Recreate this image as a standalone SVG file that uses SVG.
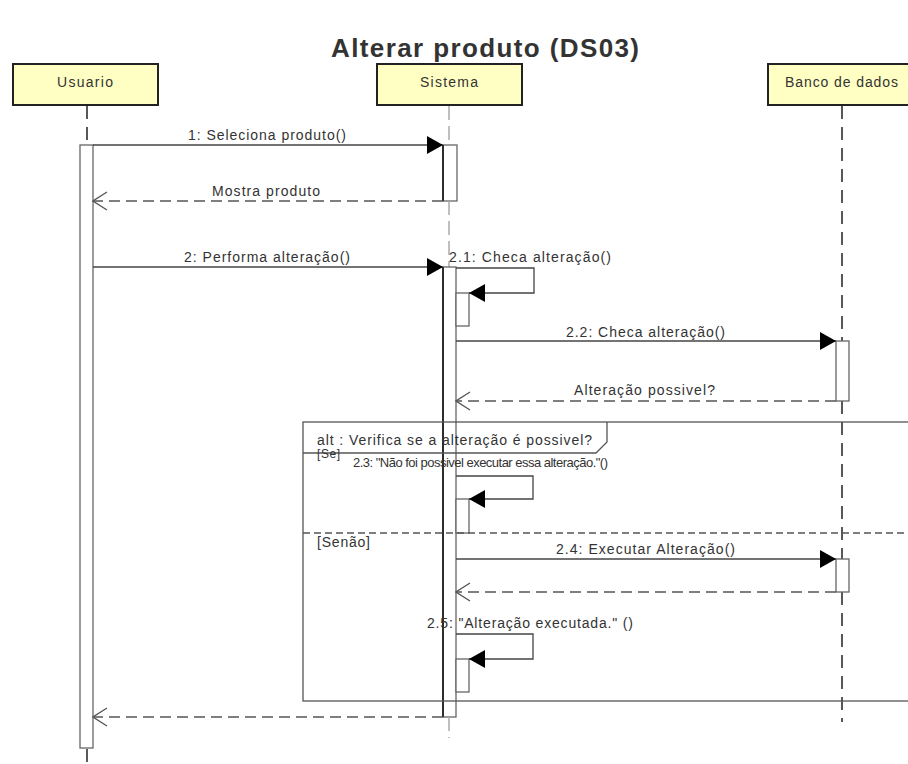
<svg xmlns="http://www.w3.org/2000/svg" width="908" height="764" viewBox="0 0 908 764">
<style>
.t{font-family:"Liberation Sans",Arial,sans-serif;font-size:14px;fill:#333}
.title{font-family:"Liberation Sans",Arial,sans-serif;font-size:26px;font-weight:bold;fill:#333}
.box{fill:#ffffc4;stroke:#222;stroke-width:2}
.ll{stroke:#222;stroke-width:1.5;stroke-dasharray:13 8;fill:none}
.llg{stroke:#aaa;stroke-width:1.5;stroke-dasharray:14 6;fill:none}
.act{fill:#fff;stroke:#666;stroke-width:1.3}
.msg{stroke:#444;stroke-width:1.3;fill:none}
.ret{stroke:#555;stroke-width:1.3;stroke-dasharray:11 6;fill:none}
.frame{fill:none;stroke:#555;stroke-width:1.3}
</style>
<defs>
<marker id="fill" viewBox="0 0 16 18" refX="16" refY="9" markerWidth="16" markerHeight="18" markerUnits="userSpaceOnUse" orient="auto">
<path d="M0,0 L16,9 L0,18 Z" fill="#000"/>
</marker>
<marker id="open" viewBox="0 0 16 20" refX="15" refY="10" markerWidth="16" markerHeight="20" markerUnits="userSpaceOnUse" orient="auto">
<path d="M1,1 L15,10 L1,19" fill="none" stroke="#555" stroke-width="1.3"/>
</marker>
</defs>
<rect width="908" height="764" fill="#fff"/>
<text class="title" x="485" y="57" text-anchor="middle" textLength="308">Alterar produto (DS03)</text>

<g id="usuario">
<rect class="box" x="13" y="64" width="145" height="41"/>
<text class="t" x="57" y="87" textLength="56">Usuario</text>
<line class="ll" x1="87" y1="106" x2="87" y2="145"/>
<rect class="act" x="80" y="145" width="13" height="603"/>
<line class="ll" x1="87" y1="749" x2="87" y2="764"/>
</g>

<g id="sistema">
<rect class="box" x="377" y="64" width="145" height="41"/>
<text class="t" x="420" y="87" textLength="58">Sistema</text>
<line class="llg" x1="449" y1="106" x2="449" y2="145"/>
<rect class="act" x="443" y="145" width="14" height="56"/>
<line x1="443" y1="145" x2="443" y2="201" stroke="#222" stroke-width="1.8"/>
<line class="llg" x1="449" y1="201" x2="449" y2="267"/>
<rect class="act" x="443" y="267" width="13" height="450"/>
<line x1="443" y1="267" x2="443" y2="717" stroke="#222" stroke-width="1.8"/>
<line class="llg" x1="449" y1="717" x2="449" y2="738"/>
<rect class="act" x="456" y="293" width="13" height="33"/>
<rect class="act" x="456" y="499" width="13" height="34"/>
<rect class="act" x="456" y="659" width="13" height="33"/>
</g>

<g id="banco">
<rect class="box" x="768" y="64" width="148" height="41"/>
<text class="t" x="785" y="87" textLength="113">Banco de dados</text>
<line class="ll" x1="842" y1="106" x2="842" y2="341"/>
<line class="ll" x1="842" y1="401" x2="842" y2="559"/>
<line class="ll" x1="842" y1="592" x2="842" y2="722"/>
<rect class="act" x="836" y="341" width="13" height="60"/>
<rect class="act" x="836" y="559" width="13" height="33"/>
</g>

<g id="alt-frame">
<rect class="frame" x="303" y="422" width="620" height="279"/>
<path class="frame" d="M303,453 L596,453 L607,442 L607,422"/>
<line x1="303" y1="533" x2="908" y2="533" stroke="#555" stroke-width="1.3" stroke-dasharray="7 4"/>
<text class="t" x="317" y="445" textLength="275">alt : Verifica se a alteração é possivel?</text>
<text class="t" x="317" y="458" style="font-size:12px" textLength="23">[Se]</text>
<text class="t" x="317" y="547" textLength="53">[Senão]</text>
</g>

<g id="connectors">
<line class="msg" x1="93" y1="145" x2="443" y2="145" marker-end="url(#fill)"/>
<text class="t" x="188" y="140" textLength="158">1: Seleciona produto()</text>
<line class="ret" x1="443" y1="201" x2="93" y2="201" marker-end="url(#open)"/>
<text class="t" x="212" y="196" textLength="108">Mostra produto</text>
<line class="msg" x1="93" y1="267" x2="443" y2="267" marker-end="url(#fill)"/>
<text class="t" x="184" y="262" textLength="166">2: Performa alteração()</text>
<path class="msg" d="M456,268 L534,268 L534,293 L469,293" marker-end="url(#fill)"/>
<text class="t" x="449" y="262" textLength="162">2.1: Checa alteração()</text>
<line class="msg" x1="456" y1="341" x2="836" y2="341" marker-end="url(#fill)"/>
<text class="t" x="566" y="337" textLength="159">2.2: Checa alteração()</text>
<line class="ret" x1="836" y1="401" x2="456" y2="401" marker-end="url(#open)"/>
<text class="t" x="574" y="395" textLength="141">Alteração possivel?</text>
<path class="msg" d="M456,476 L533,476 L533,499 L469,499" marker-end="url(#fill)"/>
<text class="t" x="353" y="467" style="font-size:13px" textLength="255">2.3: "Não foi possivel executar essa alteração."()</text>
<line class="msg" x1="456" y1="559" x2="836" y2="559" marker-end="url(#fill)"/>
<text class="t" x="556" y="554" textLength="179">2.4: Executar Alteração()</text>
<line class="ret" x1="836" y1="592" x2="456" y2="592" marker-end="url(#open)"/>
<path class="msg" d="M456,634 L533,634 L533,659 L469,659" marker-end="url(#fill)"/>
<text class="t" x="427" y="628" textLength="206">2.5: "Alteração executada." ()</text>
<line class="ret" x1="443" y1="717" x2="93" y2="717" marker-end="url(#open)"/>
</g>
</svg>
